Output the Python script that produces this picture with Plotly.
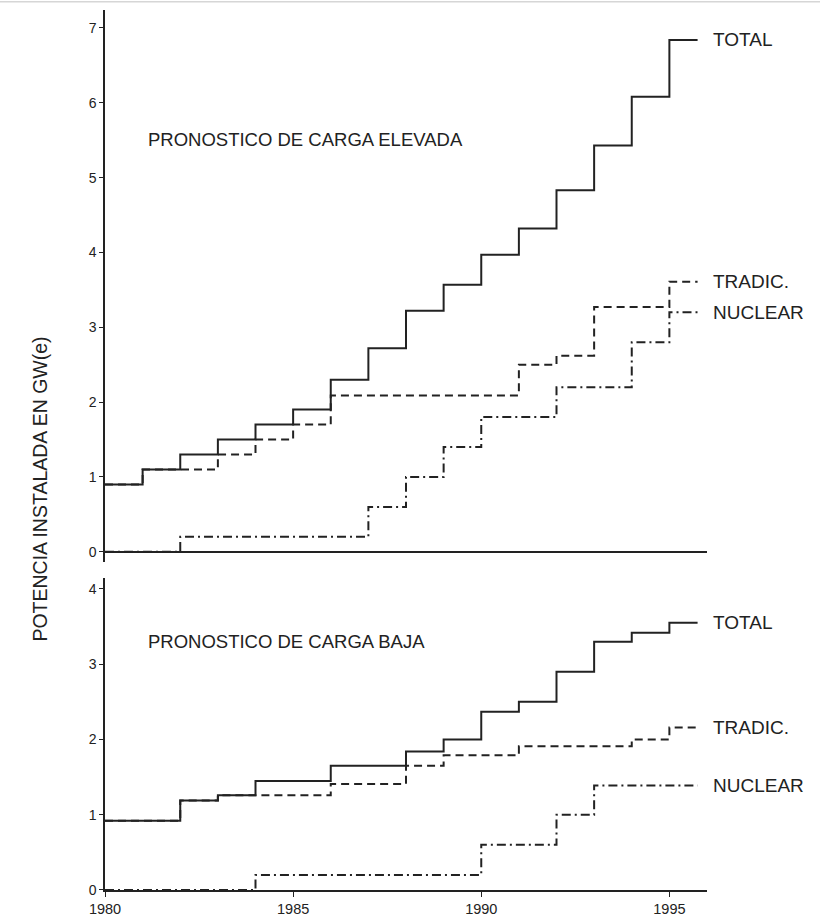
import plotly.graph_objects as go

# Installed capacity forecasts (GW(e)), one value per year starting 1980
years = [1980, 1981, 1982, 1983, 1984, 1985, 1986, 1987,
         1988, 1989, 1990, 1991, 1992, 1993, 1994, 1995]
end_year = 1995.75
x_min, x_max = 1980, 1996

# High-load forecast
high_total = [0.90, 1.10, 1.30, 1.50, 1.70, 1.90, 2.30, 2.72,
              3.22, 3.57, 3.97, 4.32, 4.83, 5.43, 6.08, 6.84]
high_tradic = [0.90, 1.10, 1.10, 1.30, 1.50, 1.70, 2.09, 2.09,
               2.09, 2.09, 2.09, 2.50, 2.62, 3.27, 3.27, 3.61]
high_nuclear = [0.0, 0.0, 0.20, 0.20, 0.20, 0.20, 0.20, 0.60,
                1.00, 1.40, 1.80, 1.80, 2.20, 2.20, 2.80, 3.20]

# Low-load forecast
low_total = [0.92, 0.92, 1.19, 1.26, 1.45, 1.45, 1.65, 1.65,
             1.84, 2.00, 2.37, 2.50, 2.90, 3.30, 3.42, 3.55]
low_tradic = [0.92, 0.92, 1.19, 1.26, 1.26, 1.26, 1.41, 1.41,
              1.65, 1.79, 1.79, 1.91, 1.91, 1.91, 2.00, 2.16]
low_nuclear = [0.0, 0.0, 0.0, 0.0, 0.20, 0.20, 0.20, 0.20,
               0.20, 0.20, 0.60, 0.60, 1.00, 1.39, 1.39, 1.39]

series_names = ["TOTAL", "TRADIC.", "NUCLEAR"]
panel_titles = ["PRONOSTICO DE CARGA ELEVADA", "PRONOSTICO DE CARGA BAJA"]
y_title = "POTENCIA INSTALADA EN GW(e)"
x_ticks = [1980, 1985, 1990, 1995]

INK = "#222222"
LABEL_FONT = "Liberation Sans, Arial, Helvetica, sans-serif"
TICK_FONT = "Liberation Sans, Arial, sans-serif"
styles = {
    "TOTAL": dict(color=INK, width=2.0, dash="solid"),
    "TRADIC.": dict(color=INK, width=2.0, dash="8px,5px"),
    "NUCLEAR": dict(color=INK, width=2.0, dash="9px,4px,2px,4px"),
}

fig = go.Figure()

panels = [
    ("x", "y", [high_total, high_tradic, high_nuclear]),
    ("x2", "y2", [low_total, low_tradic, low_nuclear]),
]

# end-of-line labels sit just past the right end of the x axis
label_x = (1996.1 - x_min) / (x_max - x_min)

# draw lighter-weight series first so the solid total sits on top
for xa, ya, data in panels:
    for name, vals in reversed(list(zip(series_names, data))):
        fig.add_trace(go.Scatter(
            x=years + [end_year], y=vals + [vals[-1]],
            mode="lines", line_shape="hv", line=styles[name],
            xaxis=xa, yaxis=ya, showlegend=False, hoverinfo="skip",
        ))
        fig.add_annotation(
            x=label_x, y=vals[-1], xref="paper", yref=ya, text=name,
            showarrow=False, xanchor="left", yanchor="middle",
            font=dict(family=LABEL_FONT, size=19, color=INK),
        )

fig.add_annotation(x=1981.1, y=5.51, xref="x", yref="y", text=panel_titles[0],
                   showarrow=False, xanchor="left", yanchor="middle",
                   font=dict(family=LABEL_FONT, size=18.5, color=INK))
fig.add_annotation(x=1981.1, y=3.30, xref="x2", yref="y2", text=panel_titles[1],
                   showarrow=False, xanchor="left", yanchor="middle",
                   font=dict(family=LABEL_FONT, size=18.5, color=INK))

fig.add_annotation(x=-0.108, y=0.451, xref="paper", yref="paper", text=y_title,
                   textangle=-90, showarrow=False, xanchor="center", yanchor="middle",
                   font=dict(family=LABEL_FONT, size=19.5, color=INK))

y_tick_font = dict(family=TICK_FONT, size=14, color=INK)
x_tick_font = dict(family=TICK_FONT, size=14.5, color=INK)
common_x = dict(range=[x_min, x_max], showgrid=False, zeroline=False,
                fixedrange=True)
common_y = dict(showgrid=False, showline=True, linecolor=INK, linewidth=1.5,
                ticks="outside", ticklen=4, tickwidth=1.2, tickcolor=INK,
                tickfont=y_tick_font, dtick=1, fixedrange=True)

fig.update_layout(
    width=820, height=917,
    margin=dict(l=105, r=113, t=0, b=25),
    paper_bgcolor="white", plot_bgcolor="white",
    xaxis=dict(**common_x, domain=[0, 1], anchor="y", showline=False,
               showticklabels=False, ticks=""),
    yaxis=dict(**common_y, domain=[0.3688, 0.9888], range=[-0.133, 7.24],
               anchor="x", zeroline=True, zerolinecolor=INK, zerolinewidth=1.5,
               tickvals=[0, 1, 2, 3, 4, 5, 6, 7]),
    xaxis2=dict(**common_x, domain=[0, 1], anchor="y2", showline=True,
                linecolor=INK, linewidth=1.5, ticks="outside", ticklen=5,
                tickwidth=1.2, tickcolor=INK, tickvals=x_ticks,
                tickfont=x_tick_font),
    yaxis2=dict(**common_y, domain=[0, 0.3509], range=[0, 4.15], anchor="x2",
                zeroline=False, tickvals=[0, 1, 2, 3, 4]),
)

# faint rule along the top edge of the sheet
fig.add_shape(type="line", xref="paper", yref="paper",
              x0=-105 / 602, x1=715 / 602, y0=0.998, y1=0.998,
              line=dict(color="#d6d6d6", width=1.5))

fig.write_html("out.html")
